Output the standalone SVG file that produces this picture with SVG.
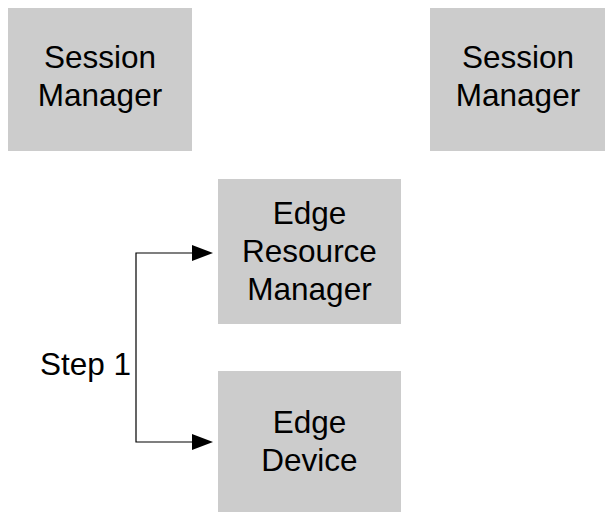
<svg xmlns="http://www.w3.org/2000/svg" width="605" height="512" viewBox="0 0 605 512">
  <defs>
    <style>
      .box { fill: #cccccc; }
      .lbl { font-family: "Liberation Sans", Arial, sans-serif; font-size: 31.5px; fill: #000000; text-anchor: middle; }
      .wire { fill: none; stroke: #000000; stroke-width: 1.2; }
      .head { fill: #000000; }
    </style>
  </defs>
  <rect width="605" height="512" fill="#ffffff"/>

  <g id="session-manager-left">
    <rect class="box" x="8" y="8" width="184" height="143"/>
    <text class="lbl" x="100" y="68">Session</text>
    <text class="lbl" x="100" y="105.5">Manager</text>
  </g>

  <g id="session-manager-right">
    <rect class="box" x="430" y="8" width="184" height="143"/>
    <text class="lbl" x="518" y="68">Session</text>
    <text class="lbl" x="518" y="105.5">Manager</text>
  </g>

  <g id="edge-resource-manager">
    <rect class="box" x="218" y="179" width="183" height="145"/>
    <text class="lbl" x="309.5" y="224">Edge</text>
    <text class="lbl" x="309.5" y="262">Resource</text>
    <text class="lbl" x="309.5" y="300">Manager</text>
  </g>

  <g id="edge-device">
    <rect class="box" x="218" y="371" width="183" height="145"/>
    <text class="lbl" x="309.5" y="433">Edge</text>
    <text class="lbl" x="309.5" y="471">Device</text>
  </g>

  <g id="connectors">
    <path class="wire" d="M193 253 H136 V442 H193"/>
    <polygon class="head" points="192,245 213,253 192,261"/>
    <polygon class="head" points="192,434 213,442 192,450"/>
    <text class="lbl" x="85.5" y="375">Step 1</text>
  </g>
</svg>
